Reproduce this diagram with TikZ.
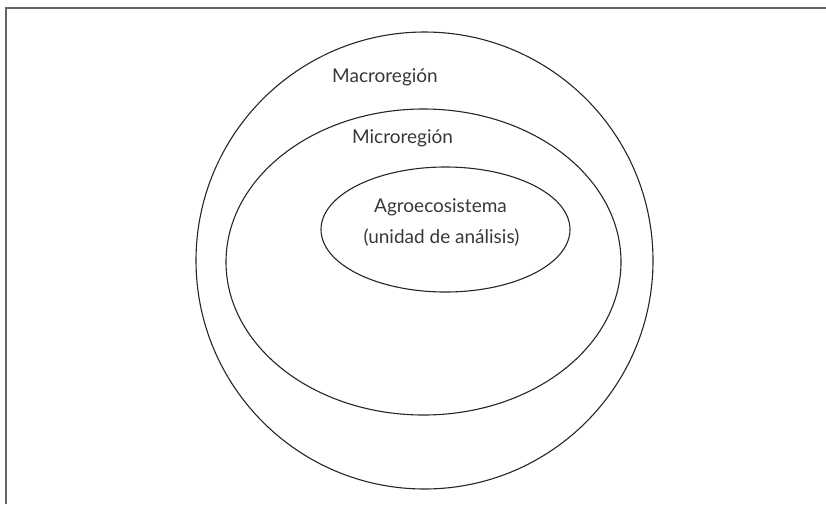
\documentclass[tikz,border=0pt]{standalone}
\usepackage{fontspec}
\setmainfont{Lato}
\usetikzlibrary{shapes.geometric}
\begin{document}
\begin{tikzpicture}[x=1pt,y=-1pt,
  ring/.style={draw=black!85,line width=1.1pt},
  lbl/.style={text=black!78,font=\fontsize{19}{23}\selectfont,inner sep=0pt,anchor=base},
  frame/.style={draw=black!60,line width=2pt}]
\useasboundingbox (0,0) rectangle (826,504);
\draw[frame] (6,504) -- (6,7.5) -- (826,7.5);
\draw[ring] (424.5,260.5) ellipse [x radius=228.5,y radius=228.5];
\draw[ring] (423.5,262) ellipse [x radius=197.5,y radius=153];
\node[ring,ellipse,minimum width=249pt,minimum height=125pt,inner sep=0pt] (agro) at (445.5,229.5) {};
\node[lbl] (macro) at (385,82) {Macroregión};
\node[lbl] (micro) at (402.5,143) {Microregión};
\node[lbl] (a1) at (440.5,212) {Agroecosistema};
\node[lbl] (a2) at (441.5,243) {(unidad de análisis)};
\end{tikzpicture}
\end{document}
